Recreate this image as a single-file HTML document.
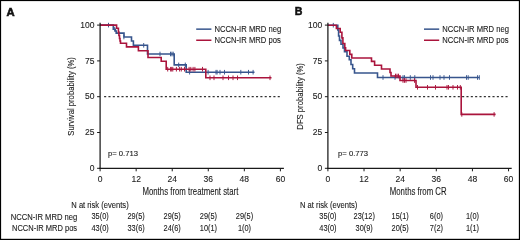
<!DOCTYPE html>
<html><head><meta charset="utf-8"><style>
html,body{margin:0;padding:0;background:#fff;width:520px;height:240px;overflow:hidden}
svg{display:block;will-change:transform}
svg text{font-family:"Liberation Sans", sans-serif}
</style></head><body>
<svg width="520" height="240" viewBox="0 0 520 240"><rect x="0" y="0" width="520" height="240" fill="#fff"/><line x1="104.1" y1="96.70" x2="280.6" y2="96.70" stroke="#333" stroke-width="1.2" stroke-dasharray="2.1 2.24"/><path d="M100.00,25.10 L113.30,25.10 L113.30,29.20 L115.30,29.20 L115.30,31.00 L116.20,31.00 L116.20,33.10 L124.00,33.10 L124.00,37.00 L131.50,37.00 L131.50,41.00 L133.40,41.00 L133.40,45.30 L147.50,45.30 L147.50,54.00 L174.20,54.00 L174.20,64.90 L186.20,64.90 L186.20,72.20 L254.50,72.20" fill="none" stroke="#37558d" stroke-width="1.6" stroke-linejoin="miter" stroke-linecap="butt"/><line x1="108.5" y1="22.8" x2="108.5" y2="27.400000000000002" stroke="#37558d" stroke-width="0.95"/><line x1="114.7" y1="26.9" x2="114.7" y2="31.5" stroke="#37558d" stroke-width="0.95"/><line x1="123.9" y1="34.7" x2="123.9" y2="39.3" stroke="#37558d" stroke-width="0.95"/><line x1="143.7" y1="43.0" x2="143.7" y2="47.599999999999994" stroke="#37558d" stroke-width="0.95"/><line x1="160" y1="51.7" x2="160" y2="56.3" stroke="#37558d" stroke-width="0.95"/><line x1="170.5" y1="51.7" x2="170.5" y2="56.3" stroke="#37558d" stroke-width="0.95"/><line x1="171.9" y1="51.7" x2="171.9" y2="56.3" stroke="#37558d" stroke-width="0.95"/><line x1="173.2" y1="51.7" x2="173.2" y2="56.3" stroke="#37558d" stroke-width="0.95"/><line x1="178.7" y1="62.60000000000001" x2="178.7" y2="67.2" stroke="#37558d" stroke-width="0.95"/><line x1="185.3" y1="62.60000000000001" x2="185.3" y2="67.2" stroke="#37558d" stroke-width="0.95"/><line x1="189.6" y1="69.9" x2="189.6" y2="74.5" stroke="#37558d" stroke-width="0.95"/><line x1="208.1" y1="69.9" x2="208.1" y2="74.5" stroke="#37558d" stroke-width="0.95"/><line x1="216" y1="69.9" x2="216" y2="74.5" stroke="#37558d" stroke-width="0.95"/><line x1="217.1" y1="69.9" x2="217.1" y2="74.5" stroke="#37558d" stroke-width="0.95"/><line x1="220" y1="69.9" x2="220" y2="74.5" stroke="#37558d" stroke-width="0.95"/><line x1="224.5" y1="69.9" x2="224.5" y2="74.5" stroke="#37558d" stroke-width="0.95"/><line x1="240.8" y1="69.9" x2="240.8" y2="74.5" stroke="#37558d" stroke-width="0.95"/><line x1="248.5" y1="69.9" x2="248.5" y2="74.5" stroke="#37558d" stroke-width="0.95"/><line x1="253.1" y1="69.9" x2="253.1" y2="74.5" stroke="#37558d" stroke-width="0.95"/><path d="M100.00,25.10 L116.60,25.10 L116.60,28.30 L118.40,28.30 L118.40,32.00 L118.90,32.00 L118.90,35.50 L119.50,35.50 L119.50,38.50 L120.00,38.50 L120.00,41.00 L120.50,41.00 L120.50,43.30 L126.50,43.30 L126.50,46.90 L138.40,46.90 L138.40,50.80 L148.00,50.80 L148.00,57.50 L161.20,57.50 L161.20,61.20 L166.20,61.20 L166.20,69.20 L205.80,69.20 L205.80,77.80 L271.50,77.80" fill="none" stroke="#aa143c" stroke-width="1.6" stroke-linejoin="miter" stroke-linecap="butt"/><line x1="167.7" y1="66.9" x2="167.7" y2="71.5" stroke="#aa143c" stroke-width="0.95"/><line x1="170.6" y1="66.9" x2="170.6" y2="71.5" stroke="#aa143c" stroke-width="0.95"/><line x1="171.7" y1="66.9" x2="171.7" y2="71.5" stroke="#aa143c" stroke-width="0.95"/><line x1="172.8" y1="66.9" x2="172.8" y2="71.5" stroke="#aa143c" stroke-width="0.95"/><line x1="176.4" y1="66.9" x2="176.4" y2="71.5" stroke="#aa143c" stroke-width="0.95"/><line x1="179.6" y1="66.9" x2="179.6" y2="71.5" stroke="#aa143c" stroke-width="0.95"/><line x1="181.3" y1="66.9" x2="181.3" y2="71.5" stroke="#aa143c" stroke-width="0.95"/><line x1="184.5" y1="66.9" x2="184.5" y2="71.5" stroke="#aa143c" stroke-width="0.95"/><line x1="189.1" y1="66.9" x2="189.1" y2="71.5" stroke="#aa143c" stroke-width="0.95"/><line x1="190.8" y1="66.9" x2="190.8" y2="71.5" stroke="#aa143c" stroke-width="0.95"/><line x1="193.1" y1="66.9" x2="193.1" y2="71.5" stroke="#aa143c" stroke-width="0.95"/><line x1="194.9" y1="66.9" x2="194.9" y2="71.5" stroke="#aa143c" stroke-width="0.95"/><line x1="202.5" y1="66.9" x2="202.5" y2="71.5" stroke="#aa143c" stroke-width="0.95"/><line x1="210" y1="75.5" x2="210" y2="80.1" stroke="#aa143c" stroke-width="0.95"/><line x1="214" y1="75.5" x2="214" y2="80.1" stroke="#aa143c" stroke-width="0.95"/><line x1="223" y1="75.5" x2="223" y2="80.1" stroke="#aa143c" stroke-width="0.95"/><line x1="228.5" y1="75.5" x2="228.5" y2="80.1" stroke="#aa143c" stroke-width="0.95"/><line x1="233" y1="75.5" x2="233" y2="80.1" stroke="#aa143c" stroke-width="0.95"/><line x1="237.5" y1="75.5" x2="237.5" y2="80.1" stroke="#aa143c" stroke-width="0.95"/><line x1="270" y1="75.5" x2="270" y2="80.1" stroke="#aa143c" stroke-width="0.95"/><line x1="100.1" y1="22.7" x2="100.1" y2="169.0" stroke="#1a1a1a" stroke-width="1.25"/><line x1="99.39999999999999" y1="168.3" x2="283.9" y2="168.3" stroke="#1a1a1a" stroke-width="1.25"/><line x1="97.1" y1="25.10" x2="100.1" y2="25.10" stroke="#1a1a1a" stroke-width="1"/><text transform="translate(94.40,27.70) scale(0.9,1)" font-size="9.5" text-anchor="end" font-weight="normal" fill="#1a1a1a" stroke="#1a1a1a" stroke-width="0.1">100</text><line x1="97.1" y1="60.90" x2="100.1" y2="60.90" stroke="#1a1a1a" stroke-width="1"/><text transform="translate(94.40,63.50) scale(0.9,1)" font-size="9.5" text-anchor="end" font-weight="normal" fill="#1a1a1a" stroke="#1a1a1a" stroke-width="0.1">75</text><line x1="97.1" y1="96.70" x2="100.1" y2="96.70" stroke="#1a1a1a" stroke-width="1"/><text transform="translate(94.40,99.30) scale(0.9,1)" font-size="9.5" text-anchor="end" font-weight="normal" fill="#1a1a1a" stroke="#1a1a1a" stroke-width="0.1">50</text><line x1="97.1" y1="132.50" x2="100.1" y2="132.50" stroke="#1a1a1a" stroke-width="1"/><text transform="translate(94.40,135.10) scale(0.9,1)" font-size="9.5" text-anchor="end" font-weight="normal" fill="#1a1a1a" stroke="#1a1a1a" stroke-width="0.1">25</text><line x1="97.1" y1="168.30" x2="100.1" y2="168.30" stroke="#1a1a1a" stroke-width="1"/><text transform="translate(94.40,170.90) scale(0.9,1)" font-size="9.5" text-anchor="end" font-weight="normal" fill="#1a1a1a" stroke="#1a1a1a" stroke-width="0.1">0</text><line x1="100.10" y1="168.3" x2="100.10" y2="171.3" stroke="#1a1a1a" stroke-width="1"/><text transform="translate(100.10,181.90) scale(0.9,1)" font-size="9.5" text-anchor="middle" font-weight="normal" fill="#1a1a1a" stroke="#1a1a1a" stroke-width="0.1">0</text><line x1="136.16" y1="168.3" x2="136.16" y2="171.3" stroke="#1a1a1a" stroke-width="1"/><text transform="translate(136.16,181.90) scale(0.9,1)" font-size="9.5" text-anchor="middle" font-weight="normal" fill="#1a1a1a" stroke="#1a1a1a" stroke-width="0.1">12</text><line x1="172.22" y1="168.3" x2="172.22" y2="171.3" stroke="#1a1a1a" stroke-width="1"/><text transform="translate(172.22,181.90) scale(0.9,1)" font-size="9.5" text-anchor="middle" font-weight="normal" fill="#1a1a1a" stroke="#1a1a1a" stroke-width="0.1">24</text><line x1="208.28" y1="168.3" x2="208.28" y2="171.3" stroke="#1a1a1a" stroke-width="1"/><text transform="translate(208.28,181.90) scale(0.9,1)" font-size="9.5" text-anchor="middle" font-weight="normal" fill="#1a1a1a" stroke="#1a1a1a" stroke-width="0.1">36</text><line x1="244.34" y1="168.3" x2="244.34" y2="171.3" stroke="#1a1a1a" stroke-width="1"/><text transform="translate(244.34,181.90) scale(0.9,1)" font-size="9.5" text-anchor="middle" font-weight="normal" fill="#1a1a1a" stroke="#1a1a1a" stroke-width="0.1">48</text><line x1="280.40" y1="168.3" x2="280.40" y2="171.3" stroke="#1a1a1a" stroke-width="1"/><text transform="translate(280.40,181.90) scale(0.9,1)" font-size="9.5" text-anchor="middle" font-weight="normal" fill="#1a1a1a" stroke="#1a1a1a" stroke-width="0.1">60</text><text transform="translate(74.20,96.40) rotate(-90) scale(0.8,1)" font-size="9.6" text-anchor="middle" font-weight="normal" fill="#1a1a1a" stroke="#1a1a1a" stroke-width="0.1">Survival probability (%)</text><text transform="translate(190.40,194.60) scale(0.745,1)" font-size="10.5" text-anchor="middle" font-weight="normal" fill="#1a1a1a" stroke="#1a1a1a" stroke-width="0.1">Months from treatment start</text><text transform="translate(107.90,155.90) scale(0.95,1)" font-size="8.1" text-anchor="start" font-weight="normal" fill="#1a1a1a" stroke="#1a1a1a" stroke-width="0.12">p= 0.713</text><line x1="196.2" y1="29.15" x2="211.39999999999998" y2="29.15" stroke="#37558d" stroke-width="1.5"/><line x1="196.2" y1="40.25" x2="211.39999999999998" y2="40.25" stroke="#aa143c" stroke-width="1.5"/><text transform="translate(214.50,31.80) scale(0.87,1)" font-size="8.8" text-anchor="start" font-weight="normal" fill="#1a1a1a" stroke="#1a1a1a" stroke-width="0.1">NCCN-IR MRD neg</text><text transform="translate(214.50,42.80) scale(0.87,1)" font-size="8.8" text-anchor="start" font-weight="normal" fill="#1a1a1a" stroke="#1a1a1a" stroke-width="0.1">NCCN-IR MRD pos</text><text transform="translate(71.30,207.80) scale(0.905,1)" font-size="8.4" text-anchor="start" font-weight="normal" fill="#1a1a1a" stroke="#1a1a1a" stroke-width="0.1">N at risk (events)</text><text transform="translate(100.10,219.40) scale(0.88,1)" font-size="8.4" text-anchor="middle" font-weight="normal" fill="#1a1a1a" stroke="#1a1a1a" stroke-width="0.1">35(0)</text><text transform="translate(100.10,231.00) scale(0.88,1)" font-size="8.4" text-anchor="middle" font-weight="normal" fill="#1a1a1a" stroke="#1a1a1a" stroke-width="0.1">43(0)</text><text transform="translate(136.10,219.40) scale(0.88,1)" font-size="8.4" text-anchor="middle" font-weight="normal" fill="#1a1a1a" stroke="#1a1a1a" stroke-width="0.1">29(5)</text><text transform="translate(136.10,231.00) scale(0.88,1)" font-size="8.4" text-anchor="middle" font-weight="normal" fill="#1a1a1a" stroke="#1a1a1a" stroke-width="0.1">33(6)</text><text transform="translate(172.20,219.40) scale(0.88,1)" font-size="8.4" text-anchor="middle" font-weight="normal" fill="#1a1a1a" stroke="#1a1a1a" stroke-width="0.1">29(5)</text><text transform="translate(172.20,231.00) scale(0.88,1)" font-size="8.4" text-anchor="middle" font-weight="normal" fill="#1a1a1a" stroke="#1a1a1a" stroke-width="0.1">24(6)</text><text transform="translate(208.40,219.40) scale(0.88,1)" font-size="8.4" text-anchor="middle" font-weight="normal" fill="#1a1a1a" stroke="#1a1a1a" stroke-width="0.1">29(5)</text><text transform="translate(208.40,231.00) scale(0.88,1)" font-size="8.4" text-anchor="middle" font-weight="normal" fill="#1a1a1a" stroke="#1a1a1a" stroke-width="0.1">10(1)</text><text transform="translate(244.50,219.40) scale(0.88,1)" font-size="8.4" text-anchor="middle" font-weight="normal" fill="#1a1a1a" stroke="#1a1a1a" stroke-width="0.1">29(5)</text><text transform="translate(244.50,231.00) scale(0.88,1)" font-size="8.4" text-anchor="middle" font-weight="normal" fill="#1a1a1a" stroke="#1a1a1a" stroke-width="0.1">1(0)</text><text transform="translate(77.30,219.60) scale(0.91,1)" font-size="8.4" text-anchor="end" font-weight="normal" fill="#1a1a1a" stroke="#1a1a1a" stroke-width="0.1">NCCN-IR MRD neg</text><text transform="translate(77.10,231.20) scale(0.895,1)" font-size="8.4" text-anchor="end" font-weight="normal" fill="#1a1a1a" stroke="#1a1a1a" stroke-width="0.1">NCCN-IR MRD pos</text><line x1="331.9" y1="96.70" x2="508.4" y2="96.70" stroke="#333" stroke-width="1.2" stroke-dasharray="2.1 2.24"/><path d="M327.90,25.20 L337.80,25.20 L337.80,30.00 L338.60,30.00 L338.60,36.00 L339.50,36.00 L339.50,40.40 L341.00,40.40 L341.00,44.20 L343.00,44.20 L343.00,48.00 L344.50,48.00 L344.50,51.70 L347.00,51.70 L347.00,56.30 L349.30,56.30 L349.30,59.80 L351.00,59.80 L351.00,64.50 L352.70,64.50 L352.70,68.70 L354.50,68.70 L354.50,73.00 L377.50,73.00 L377.50,77.50 L479.50,77.50" fill="none" stroke="#37558d" stroke-width="1.6" stroke-linejoin="miter" stroke-linecap="butt"/><line x1="333.3" y1="22.9" x2="333.3" y2="27.5" stroke="#37558d" stroke-width="0.95"/><line x1="383" y1="75.2" x2="383" y2="79.8" stroke="#37558d" stroke-width="0.95"/><line x1="395" y1="75.2" x2="395" y2="79.8" stroke="#37558d" stroke-width="0.95"/><line x1="403" y1="75.2" x2="403" y2="79.8" stroke="#37558d" stroke-width="0.95"/><line x1="404.5" y1="75.2" x2="404.5" y2="79.8" stroke="#37558d" stroke-width="0.95"/><line x1="410.3" y1="75.2" x2="410.3" y2="79.8" stroke="#37558d" stroke-width="0.95"/><line x1="414.8" y1="75.2" x2="414.8" y2="79.8" stroke="#37558d" stroke-width="0.95"/><line x1="430.5" y1="75.2" x2="430.5" y2="79.8" stroke="#37558d" stroke-width="0.95"/><line x1="433" y1="75.2" x2="433" y2="79.8" stroke="#37558d" stroke-width="0.95"/><line x1="440" y1="75.2" x2="440" y2="79.8" stroke="#37558d" stroke-width="0.95"/><line x1="444" y1="75.2" x2="444" y2="79.8" stroke="#37558d" stroke-width="0.95"/><line x1="449.5" y1="75.2" x2="449.5" y2="79.8" stroke="#37558d" stroke-width="0.95"/><line x1="466.5" y1="75.2" x2="466.5" y2="79.8" stroke="#37558d" stroke-width="0.95"/><line x1="468.2" y1="75.2" x2="468.2" y2="79.8" stroke="#37558d" stroke-width="0.95"/><line x1="477.5" y1="75.2" x2="477.5" y2="79.8" stroke="#37558d" stroke-width="0.95"/><line x1="479.3" y1="75.2" x2="479.3" y2="79.8" stroke="#37558d" stroke-width="0.95"/><path d="M327.90,25.20 L336.40,25.20 L336.40,28.50 L340.20,28.50 L340.20,32.30 L341.90,32.30 L341.90,37.90 L342.90,37.90 L342.90,43.50 L344.80,43.50 L344.80,47.80 L345.60,47.80 L345.60,50.50 L349.80,50.50 L349.80,54.40 L351.80,54.40 L351.80,58.00 L371.50,58.00 L371.50,61.40 L374.60,61.40 L374.60,65.20 L381.50,65.20 L381.50,69.00 L390.00,69.00 L390.00,72.50 L391.00,72.50 L391.00,76.00 L400.00,76.00 L400.00,80.50 L416.00,80.50 L416.00,87.30 L461.20,87.30 L461.20,114.40 L495.60,114.40" fill="none" stroke="#aa143c" stroke-width="1.6" stroke-linejoin="miter" stroke-linecap="butt"/><line x1="395.5" y1="73.7" x2="395.5" y2="78.3" stroke="#aa143c" stroke-width="0.95"/><line x1="397" y1="73.7" x2="397" y2="78.3" stroke="#aa143c" stroke-width="0.95"/><line x1="398.5" y1="73.7" x2="398.5" y2="78.3" stroke="#aa143c" stroke-width="0.95"/><line x1="403" y1="78.2" x2="403" y2="82.8" stroke="#aa143c" stroke-width="0.95"/><line x1="404.5" y1="78.2" x2="404.5" y2="82.8" stroke="#aa143c" stroke-width="0.95"/><line x1="406" y1="78.2" x2="406" y2="82.8" stroke="#aa143c" stroke-width="0.95"/><line x1="414.5" y1="78.2" x2="414.5" y2="82.8" stroke="#aa143c" stroke-width="0.95"/><line x1="417.5" y1="85.0" x2="417.5" y2="89.6" stroke="#aa143c" stroke-width="0.95"/><line x1="427.5" y1="85.0" x2="427.5" y2="89.6" stroke="#aa143c" stroke-width="0.95"/><line x1="435.5" y1="85.0" x2="435.5" y2="89.6" stroke="#aa143c" stroke-width="0.95"/><line x1="447" y1="85.0" x2="447" y2="89.6" stroke="#aa143c" stroke-width="0.95"/><line x1="448.5" y1="85.0" x2="448.5" y2="89.6" stroke="#aa143c" stroke-width="0.95"/><line x1="453" y1="85.0" x2="453" y2="89.6" stroke="#aa143c" stroke-width="0.95"/><line x1="457.5" y1="85.0" x2="457.5" y2="89.6" stroke="#aa143c" stroke-width="0.95"/><line x1="460.3" y1="85.0" x2="460.3" y2="89.6" stroke="#aa143c" stroke-width="0.95"/><line x1="461.8" y1="112.10000000000001" x2="461.8" y2="116.7" stroke="#aa143c" stroke-width="0.95"/><line x1="494.1" y1="112.10000000000001" x2="494.1" y2="116.7" stroke="#aa143c" stroke-width="0.95"/><line x1="327.9" y1="22.7" x2="327.9" y2="169.0" stroke="#1a1a1a" stroke-width="1.25"/><line x1="327.2" y1="168.3" x2="511.7" y2="168.3" stroke="#1a1a1a" stroke-width="1.25"/><line x1="324.9" y1="25.10" x2="327.9" y2="25.10" stroke="#1a1a1a" stroke-width="1"/><text transform="translate(322.20,27.70) scale(0.9,1)" font-size="9.5" text-anchor="end" font-weight="normal" fill="#1a1a1a" stroke="#1a1a1a" stroke-width="0.1">100</text><line x1="324.9" y1="60.90" x2="327.9" y2="60.90" stroke="#1a1a1a" stroke-width="1"/><text transform="translate(322.20,63.50) scale(0.9,1)" font-size="9.5" text-anchor="end" font-weight="normal" fill="#1a1a1a" stroke="#1a1a1a" stroke-width="0.1">75</text><line x1="324.9" y1="96.70" x2="327.9" y2="96.70" stroke="#1a1a1a" stroke-width="1"/><text transform="translate(322.20,99.30) scale(0.9,1)" font-size="9.5" text-anchor="end" font-weight="normal" fill="#1a1a1a" stroke="#1a1a1a" stroke-width="0.1">50</text><line x1="324.9" y1="132.50" x2="327.9" y2="132.50" stroke="#1a1a1a" stroke-width="1"/><text transform="translate(322.20,135.10) scale(0.9,1)" font-size="9.5" text-anchor="end" font-weight="normal" fill="#1a1a1a" stroke="#1a1a1a" stroke-width="0.1">25</text><line x1="324.9" y1="168.30" x2="327.9" y2="168.30" stroke="#1a1a1a" stroke-width="1"/><text transform="translate(322.20,170.90) scale(0.9,1)" font-size="9.5" text-anchor="end" font-weight="normal" fill="#1a1a1a" stroke="#1a1a1a" stroke-width="0.1">0</text><line x1="327.90" y1="168.3" x2="327.90" y2="171.3" stroke="#1a1a1a" stroke-width="1"/><text transform="translate(327.90,181.90) scale(0.9,1)" font-size="9.5" text-anchor="middle" font-weight="normal" fill="#1a1a1a" stroke="#1a1a1a" stroke-width="0.1">0</text><line x1="364.03" y1="168.3" x2="364.03" y2="171.3" stroke="#1a1a1a" stroke-width="1"/><text transform="translate(364.03,181.90) scale(0.9,1)" font-size="9.5" text-anchor="middle" font-weight="normal" fill="#1a1a1a" stroke="#1a1a1a" stroke-width="0.1">12</text><line x1="400.16" y1="168.3" x2="400.16" y2="171.3" stroke="#1a1a1a" stroke-width="1"/><text transform="translate(400.16,181.90) scale(0.9,1)" font-size="9.5" text-anchor="middle" font-weight="normal" fill="#1a1a1a" stroke="#1a1a1a" stroke-width="0.1">24</text><line x1="436.30" y1="168.3" x2="436.30" y2="171.3" stroke="#1a1a1a" stroke-width="1"/><text transform="translate(436.30,181.90) scale(0.9,1)" font-size="9.5" text-anchor="middle" font-weight="normal" fill="#1a1a1a" stroke="#1a1a1a" stroke-width="0.1">36</text><line x1="472.43" y1="168.3" x2="472.43" y2="171.3" stroke="#1a1a1a" stroke-width="1"/><text transform="translate(472.43,181.90) scale(0.9,1)" font-size="9.5" text-anchor="middle" font-weight="normal" fill="#1a1a1a" stroke="#1a1a1a" stroke-width="0.1">48</text><line x1="508.56" y1="168.3" x2="508.56" y2="171.3" stroke="#1a1a1a" stroke-width="1"/><text transform="translate(508.56,181.90) scale(0.9,1)" font-size="9.5" text-anchor="middle" font-weight="normal" fill="#1a1a1a" stroke="#1a1a1a" stroke-width="0.1">60</text><text transform="translate(303.20,96.40) rotate(-90) scale(0.8,1)" font-size="9.6" text-anchor="middle" font-weight="normal" fill="#1a1a1a" stroke="#1a1a1a" stroke-width="0.1">DFS probability (%)</text><text transform="translate(418.20,194.60) scale(0.745,1)" font-size="10.5" text-anchor="middle" font-weight="normal" fill="#1a1a1a" stroke="#1a1a1a" stroke-width="0.1">Months from CR</text><text transform="translate(338.00,155.90) scale(0.95,1)" font-size="8.1" text-anchor="start" font-weight="normal" fill="#1a1a1a" stroke="#1a1a1a" stroke-width="0.12">p= 0.773</text><line x1="424" y1="29.15" x2="439.2" y2="29.15" stroke="#37558d" stroke-width="1.5"/><line x1="424" y1="40.25" x2="439.2" y2="40.25" stroke="#aa143c" stroke-width="1.5"/><text transform="translate(442.30,31.80) scale(0.87,1)" font-size="8.8" text-anchor="start" font-weight="normal" fill="#1a1a1a" stroke="#1a1a1a" stroke-width="0.1">NCCN-IR MRD neg</text><text transform="translate(442.30,42.80) scale(0.87,1)" font-size="8.8" text-anchor="start" font-weight="normal" fill="#1a1a1a" stroke="#1a1a1a" stroke-width="0.1">NCCN-IR MRD pos</text><text transform="translate(300.00,207.80) scale(0.905,1)" font-size="8.4" text-anchor="start" font-weight="normal" fill="#1a1a1a" stroke="#1a1a1a" stroke-width="0.1">N at risk (events)</text><text transform="translate(327.90,219.40) scale(0.88,1)" font-size="8.4" text-anchor="middle" font-weight="normal" fill="#1a1a1a" stroke="#1a1a1a" stroke-width="0.1">35(0)</text><text transform="translate(327.90,231.00) scale(0.88,1)" font-size="8.4" text-anchor="middle" font-weight="normal" fill="#1a1a1a" stroke="#1a1a1a" stroke-width="0.1">43(0)</text><text transform="translate(364.20,219.40) scale(0.88,1)" font-size="8.4" text-anchor="middle" font-weight="normal" fill="#1a1a1a" stroke="#1a1a1a" stroke-width="0.1">23(12)</text><text transform="translate(364.20,231.00) scale(0.88,1)" font-size="8.4" text-anchor="middle" font-weight="normal" fill="#1a1a1a" stroke="#1a1a1a" stroke-width="0.1">30(9)</text><text transform="translate(400.20,219.40) scale(0.88,1)" font-size="8.4" text-anchor="middle" font-weight="normal" fill="#1a1a1a" stroke="#1a1a1a" stroke-width="0.1">15(1)</text><text transform="translate(400.20,231.00) scale(0.88,1)" font-size="8.4" text-anchor="middle" font-weight="normal" fill="#1a1a1a" stroke="#1a1a1a" stroke-width="0.1">20(5)</text><text transform="translate(436.40,219.40) scale(0.88,1)" font-size="8.4" text-anchor="middle" font-weight="normal" fill="#1a1a1a" stroke="#1a1a1a" stroke-width="0.1">6(0)</text><text transform="translate(436.40,231.00) scale(0.88,1)" font-size="8.4" text-anchor="middle" font-weight="normal" fill="#1a1a1a" stroke="#1a1a1a" stroke-width="0.1">7(2)</text><text transform="translate(472.50,219.40) scale(0.88,1)" font-size="8.4" text-anchor="middle" font-weight="normal" fill="#1a1a1a" stroke="#1a1a1a" stroke-width="0.1">1(0)</text><text transform="translate(472.50,231.00) scale(0.88,1)" font-size="8.4" text-anchor="middle" font-weight="normal" fill="#1a1a1a" stroke="#1a1a1a" stroke-width="0.1">1(1)</text><text transform="translate(6.60,15.50) scale(0.98,1)" font-size="11.5" text-anchor="start" font-weight="bold" fill="#111" stroke="#111" stroke-width="0.6">A</text><text transform="translate(294.80,15.30) scale(0.9,1)" font-size="11.8" text-anchor="start" font-weight="bold" fill="#111" stroke="#111" stroke-width="0.55">B</text><rect x="0" y="0" width="520" height="1.1" fill="#000"/><rect x="0" y="0" width="1.1" height="240" fill="#000"/><rect x="518.85" y="0" width="1.15" height="240" fill="#000"/><rect x="0" y="238.8" width="520" height="1.2" fill="#000"/></svg>
</body></html>
